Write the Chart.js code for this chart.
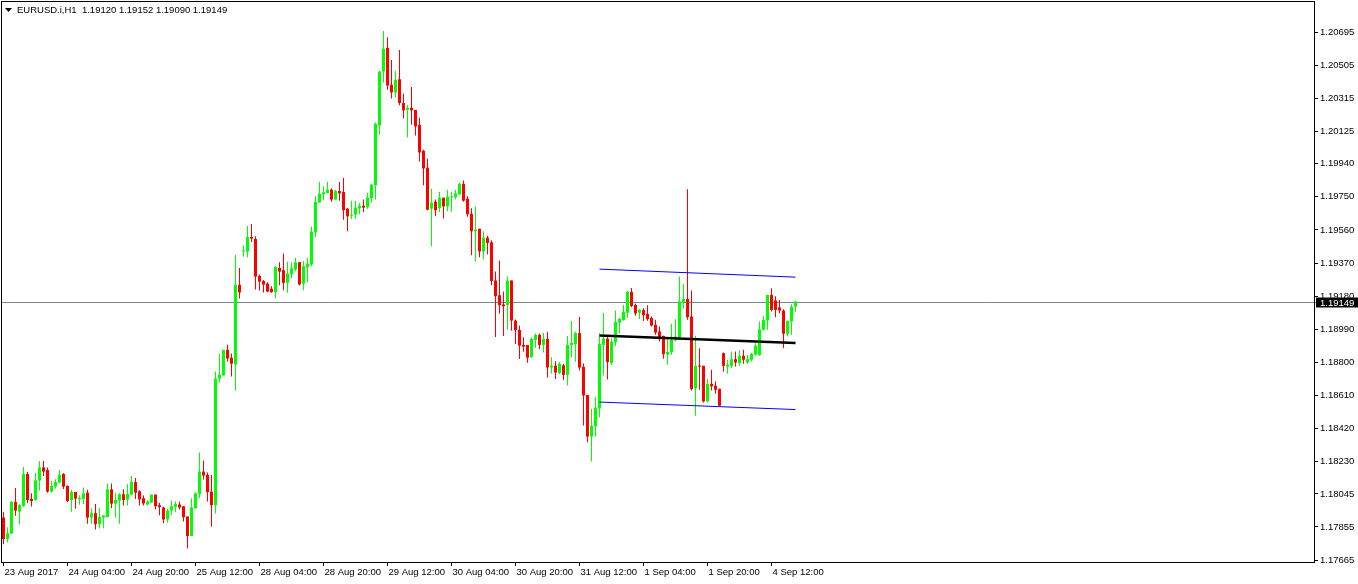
<!DOCTYPE html>
<html>
<head>
<meta charset="utf-8">
<title>EURUSD.i,H1</title>
<script src="https://cdn.jsdelivr.net/npm/chart.js@4/dist/chart.umd.min.js"></script>
<style>
  html, body { margin: 0; padding: 0; background: #fff; }
  #wrap { width: 1358px; height: 584px; }
</style>
</head>
<body>
<div id="wrap"><canvas id="priceChart" width="1358" height="584"></canvas></div>
<script>
// EURUSD H1 bars, 23 Aug 2017 12:00 .. 4 Sep 2017
const symbol = 'EURUSD.i,H1';

const opens = [
  1.17909, 1.17785, 1.17817, 1.17999, 1.17943, 1.17976, 1.18159, 1.18016, 1.18010, 1.18121,
  1.18197, 1.18182, 1.18058, 1.18087, 1.18110, 1.18159, 1.18090, 1.18010, 1.18056, 1.18014,
  1.18016, 1.18052, 1.17909, 1.17934, 1.17871, 1.17909, 1.17912, 1.18071, 1.17989, 1.18006,
  1.18043, 1.18012, 1.18041, 1.18113, 1.18060, 1.18020, 1.17984, 1.17995, 1.18041, 1.17980,
  1.17967, 1.17898, 1.17950, 1.17969, 1.17984, 1.17974, 1.17915, 1.17803, 1.17963, 1.18043,
  1.18173, 1.18154, 1.18058, 1.17980, 1.18706, 1.18725, 1.18872, 1.18826, 1.18788, 1.19245,
  1.19436, 1.19436, 1.19520, 1.19508, 1.19296, 1.19267, 1.19252, 1.19222, 1.19203, 1.19342,
  1.19329, 1.19256, 1.19306, 1.19333, 1.19375, 1.19252, 1.19346, 1.19361, 1.19546, 1.19718,
  1.19764, 1.19772, 1.19791, 1.19734, 1.19783, 1.19778, 1.19682, 1.19642, 1.19648, 1.19684,
  1.19699, 1.19690, 1.19741, 1.19816, 1.20160, 1.20469, 1.20605, 1.20393, 1.20349, 1.20425,
  1.20288, 1.20249, 1.20261, 1.20249, 1.20163, 1.20014, 1.19917, 1.19682, 1.19722, 1.19686,
  1.19745, 1.19695, 1.19747, 1.19747, 1.19764, 1.19825, 1.19739, 1.19653, 1.19552, 1.19567,
  1.19436, 1.19516, 1.19489, 1.19270, 1.19185, 1.19132, 1.19128, 1.19270, 1.19040, 1.18986,
  1.18900, 1.18900, 1.18831, 1.18928, 1.18957, 1.18900, 1.18934, 1.18770, 1.18781, 1.18739,
  1.18783, 1.18728, 1.18900, 1.18905, 1.18968, 1.18774, 1.18613, 1.18374, 1.18432, 1.18535,
  1.18900, 1.18936, 1.18797, 1.18915, 1.19028, 1.19043, 1.19085, 1.19205, 1.19129, 1.19085,
  1.19100, 1.19078, 1.19055, 1.19015, 1.18977, 1.18952, 1.18845, 1.18857, 1.18929, 1.18943,
  1.19143, 1.19164, 1.19063, 1.18650, 1.18780, 1.18780, 1.18576, 1.18677, 1.18666, 1.18648,
  1.18853, 1.18776, 1.18780, 1.18818, 1.18796, 1.18838, 1.18799, 1.18815, 1.18845, 1.18841,
  1.18987, 1.19040, 1.19187, 1.19155, 1.19115, 1.19097, 1.18964, 1.19034, 1.19120
];
const highs = [
  1.17943, 1.17854, 1.18004, 1.18079, 1.17987, 1.18199, 1.18171, 1.18048, 1.18165, 1.18234,
  1.18234, 1.18197, 1.18121, 1.18129, 1.18182, 1.18163, 1.18094, 1.18068, 1.18056, 1.18037,
  1.18081, 1.18068, 1.17962, 1.17987, 1.17964, 1.17922, 1.18104, 1.18104, 1.18052, 1.18048,
  1.18071, 1.18102, 1.18148, 1.18136, 1.18066, 1.18036, 1.18007, 1.18041, 1.18041, 1.17994,
  1.17971, 1.17959, 1.18007, 1.18001, 1.18001, 1.17974, 1.17915, 1.18020, 1.18055, 1.18282,
  1.18236, 1.18167, 1.18154, 1.18748, 1.18849, 1.18872, 1.18901, 1.18851, 1.19416, 1.19342,
  1.19472, 1.19583, 1.19594, 1.19524, 1.19304, 1.19273, 1.19260, 1.19237, 1.19352, 1.19375,
  1.19424, 1.19378, 1.19375, 1.19401, 1.19375, 1.19382, 1.19401, 1.19579, 1.19755, 1.19837,
  1.19810, 1.19837, 1.19799, 1.19791, 1.19837, 1.19860, 1.19686, 1.19728, 1.19728, 1.19716,
  1.19734, 1.19774, 1.19822, 1.20177, 1.20473, 1.20702, 1.20666, 1.20536, 1.20473, 1.20593,
  1.20341, 1.20278, 1.20381, 1.20249, 1.20204, 1.20020, 1.19969, 1.19797, 1.19734, 1.19779,
  1.19745, 1.19791, 1.19779, 1.19791, 1.19831, 1.19843, 1.19753, 1.19684, 1.19694, 1.19567,
  1.19552, 1.19527, 1.19501, 1.19321, 1.19384, 1.19206, 1.19292, 1.19270, 1.19046, 1.19012,
  1.18944, 1.18900, 1.18942, 1.18965, 1.18965, 1.18968, 1.18976, 1.18829, 1.18806, 1.18802,
  1.18791, 1.18951, 1.19037, 1.18976, 1.19060, 1.18793, 1.18613, 1.18533, 1.18602, 1.18967,
  1.19083, 1.18949, 1.18938, 1.19098, 1.19058, 1.19129, 1.19211, 1.19226, 1.19138, 1.19106,
  1.19110, 1.19128, 1.19063, 1.19044, 1.19006, 1.18952, 1.18933, 1.19021, 1.19048, 1.19292,
  1.19250, 1.19794, 1.19212, 1.18952, 1.18881, 1.18780, 1.18704, 1.18757, 1.18690, 1.18648,
  1.18857, 1.18815, 1.18862, 1.18862, 1.18868, 1.18872, 1.18843, 1.18853, 1.18910, 1.19034,
  1.19067, 1.19187, 1.19225, 1.19179, 1.19158, 1.19105, 1.19040, 1.19134, 1.19152
];
const lows = [
  1.17756, 1.17766, 1.17817, 1.17919, 1.17869, 1.17970, 1.17991, 1.17972, 1.18006, 1.18064,
  1.18148, 1.18052, 1.18052, 1.18075, 1.18106, 1.18073, 1.17998, 1.17943, 1.17959, 1.17983,
  1.17987, 1.17874, 1.17874, 1.17840, 1.17846, 1.17848, 1.17909, 1.17962, 1.17909, 1.17873,
  1.17978, 1.17978, 1.18037, 1.18016, 1.17978, 1.17978, 1.17978, 1.17994, 1.17955, 1.17923,
  1.17877, 1.17881, 1.17923, 1.17940, 1.17955, 1.17887, 1.17732, 1.17803, 1.17959, 1.18020,
  1.18127, 1.18001, 1.17856, 1.17932, 1.18685, 1.18723, 1.18803, 1.18719, 1.18639, 1.19166,
  1.19407, 1.19403, 1.19491, 1.19218, 1.19212, 1.19201, 1.19203, 1.19199, 1.19168, 1.19243,
  1.19214, 1.19199, 1.19283, 1.19323, 1.19241, 1.19214, 1.19260, 1.19352, 1.19520, 1.19716,
  1.19730, 1.19770, 1.19722, 1.19734, 1.19728, 1.19619, 1.19552, 1.19623, 1.19623, 1.19650,
  1.19661, 1.19682, 1.19716, 1.19734, 1.20106, 1.20406, 1.20364, 1.20314, 1.20320, 1.20276,
  1.20200, 1.20091, 1.20163, 1.20102, 1.19953, 1.19816, 1.19673, 1.19466, 1.19638, 1.19663,
  1.19625, 1.19667, 1.19665, 1.19734, 1.19760, 1.19722, 1.19636, 1.19415, 1.19378, 1.19403,
  1.19390, 1.19420, 1.19243, 1.18945, 1.19079, 1.18951, 1.18989, 1.18982, 1.18905, 1.18819,
  1.18861, 1.18798, 1.18827, 1.18884, 1.18875, 1.18856, 1.18713, 1.18735, 1.18705, 1.18732,
  1.18697, 1.18667, 1.18831, 1.18804, 1.18753, 1.18437, 1.18342, 1.18231, 1.18374, 1.18485,
  1.18724, 1.18701, 1.18785, 1.18892, 1.18967, 1.19039, 1.19056, 1.19116, 1.19068, 1.19049,
  1.19037, 1.19038, 1.19006, 1.18958, 1.18920, 1.18820, 1.18786, 1.18843, 1.18920, 1.18929,
  1.19109, 1.19044, 1.18639, 1.18494, 1.18643, 1.18570, 1.18570, 1.18639, 1.18620, 1.18551,
  1.18746, 1.18734, 1.18767, 1.18776, 1.18780, 1.18792, 1.18792, 1.18805, 1.18838, 1.18838,
  1.18983, 1.18987, 1.19092, 1.19059, 1.19082, 1.18881, 1.18948, 1.18958, 1.19090
];
const closes = [
  1.17785, 1.17819, 1.17999, 1.17949, 1.17980, 1.18159, 1.18010, 1.18004, 1.18123, 1.18197,
  1.18173, 1.18058, 1.18090, 1.18113, 1.18153, 1.18087, 1.18004, 1.18056, 1.18018, 1.18022,
  1.18048, 1.17909, 1.17934, 1.17871, 1.17912, 1.17922, 1.18071, 1.17989, 1.18010, 1.18043,
  1.18010, 1.18045, 1.18113, 1.18052, 1.18013, 1.17990, 1.18001, 1.18041, 1.17974, 1.17969,
  1.17898, 1.17950, 1.17974, 1.17986, 1.17967, 1.17911, 1.17803, 1.17967, 1.18047, 1.18173,
  1.18150, 1.18055, 1.17980, 1.18706, 1.18729, 1.18872, 1.18822, 1.18792, 1.19245, 1.19201,
  1.19441, 1.19520, 1.19510, 1.19292, 1.19263, 1.19246, 1.19206, 1.19203, 1.19348, 1.19321,
  1.19256, 1.19310, 1.19340, 1.19375, 1.19247, 1.19352, 1.19367, 1.19550, 1.19722, 1.19768,
  1.19776, 1.19791, 1.19734, 1.19783, 1.19770, 1.19673, 1.19638, 1.19648, 1.19688, 1.19699,
  1.19688, 1.19745, 1.19820, 1.20169, 1.20469, 1.20599, 1.20389, 1.20349, 1.20421, 1.20288,
  1.20246, 1.20261, 1.20246, 1.20154, 1.20005, 1.19913, 1.19676, 1.19716, 1.19673, 1.19745,
  1.19695, 1.19751, 1.19751, 1.19770, 1.19825, 1.19728, 1.19650, 1.19552, 1.19562, 1.19436,
  1.19516, 1.19485, 1.19266, 1.19180, 1.19128, 1.19122, 1.19270, 1.19040, 1.18985, 1.18896,
  1.18890, 1.18827, 1.18934, 1.18957, 1.18900, 1.18934, 1.18770, 1.18781, 1.18741, 1.18791,
  1.18728, 1.18900, 1.18911, 1.18968, 1.18770, 1.18609, 1.18374, 1.18436, 1.18539, 1.18905,
  1.18936, 1.18802, 1.18919, 1.19033, 1.19049, 1.19091, 1.19205, 1.19123, 1.19081, 1.19102,
  1.19070, 1.19048, 1.19011, 1.18971, 1.18933, 1.18847, 1.18860, 1.18929, 1.18948, 1.19149,
  1.19164, 1.19059, 1.18647, 1.18780, 1.18776, 1.18576, 1.18677, 1.18662, 1.18643, 1.18551,
  1.18780, 1.18786, 1.18818, 1.18799, 1.18838, 1.18815, 1.18818, 1.18849, 1.18895, 1.18990,
  1.19044, 1.19187, 1.19101, 1.19101, 1.19097, 1.18964, 1.19038, 1.19118, 1.19149
];

// time axis: bar index of each label
const timeTickBars = [0, 16, 32, 48, 64, 80, 96, 112, 128, 144, 160, 176, 192];
const timeTickLabels = [
  '23 Aug 2017', '24 Aug 04:00', '24 Aug 20:00', '25 Aug 12:00', '28 Aug 04:00',
  '28 Aug 20:00', '29 Aug 12:00', '30 Aug 04:00', '30 Aug 20:00', '31 Aug 12:00',
  '1 Sep 04:00', '1 Sep 20:00', '4 Sep 12:00'
];
const priceTickLabels = [
  '1.20695', '1.20505', '1.20315', '1.20125', '1.19940', '1.19750', '1.19560', '1.19370',
  '1.19180', '1.18990', '1.18800', '1.18610', '1.18420', '1.18230', '1.18045', '1.17855', '1.17665'
];

const bidPrice = 1.19149;

// regression channel drawn over the last bars
const channelBars = [149, 198];
const channelUpper = [1.19335, 1.19289];
const channelMiddle = [1.18954, 1.18911];
const channelLower = [1.18572, 1.18529];

const bullColor = '#00ff00';
const bearColor = '#ff0000';
const axisFont = { family: '"Liberation Sans", Arial, sans-serif', size: 9.5 };

const candleColors = opens.map((o, i) => closes[i] >= o ? bullColor : bearColor);
const wickData = lows.map((l, i) => ({ x: i, y: [l, highs[i]] }));
const bodyData = opens.map((o, i) => ({ x: i, y: [o, closes[i]] }));
const toLine = values => channelBars.map((b, k) => ({ x: b, y: values[k] }));

// frame, bid line, bid label and the symbol header
const terminalLook = {
  id: 'terminalLook',
  beforeDatasetsDraw(chart) {
    const ctx = chart.ctx, a = chart.chartArea;
    const by = Math.round(chart.scales.y.getPixelForValue(bidPrice)) + 0.5;
    ctx.save();
    ctx.strokeStyle = '#778899';
    ctx.lineWidth = 1;
    ctx.beginPath();
    ctx.moveTo(a.left, by);
    ctx.lineTo(a.right + 2, by);
    ctx.stroke();
    ctx.restore();
  },
  afterDraw(chart) {
    const ctx = chart.ctx, a = chart.chartArea;
    const by = Math.round(chart.scales.y.getPixelForValue(bidPrice)) + 0.5;
    const last = opens.length - 1;
    ctx.save();
    ctx.strokeStyle = '#000';
    ctx.lineWidth = 1;
    ctx.strokeRect(a.left + 0.5, a.top + 0.5, a.right - a.left, a.bottom - a.top);

    // current price box on the price scale
    ctx.fillStyle = '#000';
    ctx.fillRect(a.right + 2, by - 5, chart.width - a.right - 2, 10);
    ctx.fillStyle = '#fff';
    ctx.font = '9.5px "Liberation Sans", Arial, sans-serif';
    ctx.textBaseline = 'middle';
    ctx.fillText(bidPrice.toFixed(5), a.right + 6, by + 0.5);

    // header: triangle + symbol + OHLC of the last bar
    ctx.fillStyle = '#000';
    ctx.beginPath();
    ctx.moveTo(5, 8);
    ctx.lineTo(12, 8);
    ctx.lineTo(8.5, 12);
    ctx.closePath();
    ctx.fill();
    const ohlc = [opens[last], highs[last], lows[last], closes[last]].map(v => v.toFixed(5)).join(' ');
    ctx.fillText(symbol + '  ' + ohlc, 17, 10.5);
    ctx.restore();
  }
};

const ctx = document.getElementById('priceChart').getContext('2d');
const priceChart = new Chart(ctx, {
  type: 'bar',
  data: {
    datasets: [
      {
        type: 'line', data: toLine(channelUpper), borderColor: '#0000ff', borderWidth: 1,
        pointRadius: 0, fill: false, order: 0
      },
      {
        type: 'line', data: toLine(channelMiddle), borderColor: '#000000', borderWidth: 2.5,
        pointRadius: 0, fill: false, order: 0
      },
      {
        type: 'line', data: toLine(channelLower), borderColor: '#0000ff', borderWidth: 1,
        pointRadius: 0, fill: false, order: 0
      },
      {
        label: 'body', data: bodyData, backgroundColor: candleColors, barThickness: 3,
        minBarLength: 1, grouped: false, inflateAmount: 0, borderWidth: 0, order: 1
      },
      {
        label: 'wick', data: wickData, backgroundColor: candleColors, barThickness: 1,
        grouped: false, inflateAmount: 0, borderWidth: 0, order: 2
      }
    ]
  },
  options: {
    responsive: false,
    devicePixelRatio: 1,
    animation: false,
    layout: { padding: { left: 1, top: 1, right: 0, bottom: 0 } },
    plugins: { legend: { display: false }, tooltip: { enabled: false } },
    scales: {
      x: {
        type: 'linear',
        bounds: 'data',
        offset: false,
        min: -0.625,
        max: 327.625,
        afterBuildTicks: s => { s.ticks = timeTickBars.map(v => ({ value: v })); },
        afterFit: s => { s.height = 22; s.paddingLeft = 0; s.paddingRight = 0; },
        ticks: {
          autoSkip: false, maxRotation: 0, align: 'start', labelOffset: 1, padding: 1,
          color: '#000', font: axisFont,
          callback: (v, i) => timeTickLabels[i]
        },
        grid: { drawOnChartArea: false, offset: false, tickLength: 4, color: '#000' },
        border: { display: false }
      },
      y: {
        position: 'right',
        bounds: 'data',
        min: 1.17654,
        max: 1.20874,
        afterBuildTicks: s => { s.ticks = priceTickLabels.map(t => ({ value: parseFloat(t) })); },
        afterFit: s => { s.width = 44; s.paddingTop = 0; s.paddingBottom = 0; },
        ticks: {
          autoSkip: false, padding: 2, color: '#000', font: axisFont,
          callback: (v, i) => priceTickLabels[i]
        },
        grid: { drawOnChartArea: false, tickLength: 4, color: '#000' },
        border: { display: false }
      }
    }
  },
  plugins: [terminalLook]
});
</script>
</body>
</html>
